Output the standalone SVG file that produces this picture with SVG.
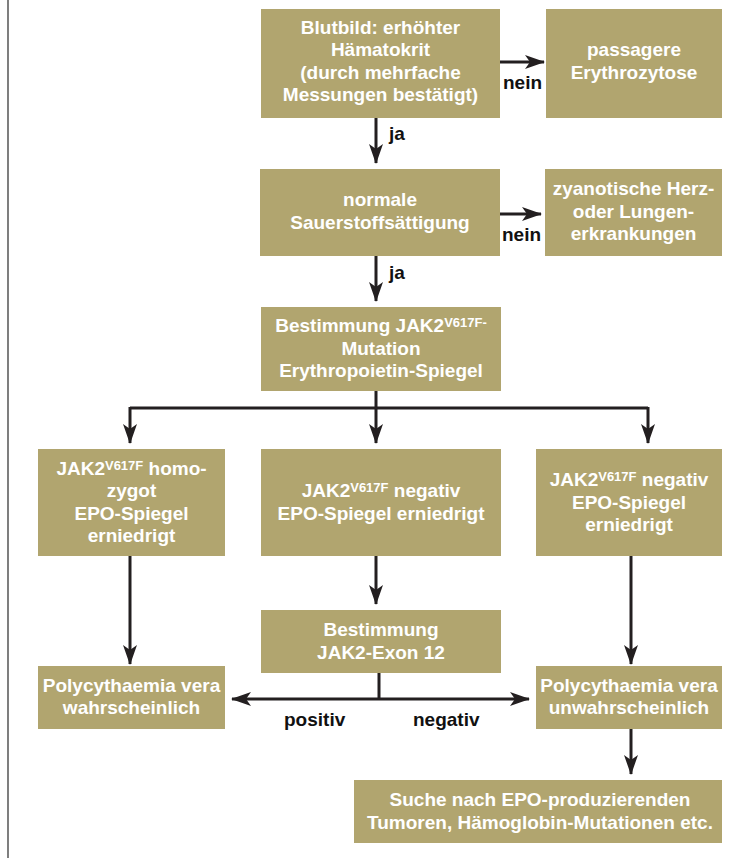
<svg xmlns="http://www.w3.org/2000/svg" width="736" height="858" viewBox="0 0 736 858">
<style>
.box{fill:#b1a56f}
.t{font-family:"Liberation Sans",Arial,sans-serif;font-weight:bold;font-size:19px;fill:#ffffff;text-anchor:middle}
.lbl{font-family:"Liberation Sans",Arial,sans-serif;font-weight:bold;font-size:19px;fill:#111111}
.sup{font-size:13px}
.c{fill:none;stroke:#231f20;stroke-width:3}
</style>
<defs>
<marker id="ah" viewBox="0 0 20 14" refX="19" refY="7" markerWidth="20" markerHeight="14" orient="auto-start-reverse" markerUnits="userSpaceOnUse">
<path d="M0,0 L20,7 L0,14 L5,7 Z" fill="#231f20"/>
</marker>
</defs>
<rect width="736" height="858" fill="#ffffff"/>
<line x1="8" y1="0" x2="8" y2="858" stroke="#3a3a3a" stroke-width="1.3"/>

<g id="connectors">
<path class="c" d="M500,62 L544,62" marker-end="url(#ah)"/>
<path class="c" d="M376,118 L376,163" marker-end="url(#ah)"/>
<path class="c" d="M500,214 L541,214" marker-end="url(#ah)"/>
<path class="c" d="M376,256 L376,301" marker-end="url(#ah)"/>
<path class="c" d="M376,391 L376,408"/>
<path class="c" d="M130,408 L648,408"/>
<path class="c" d="M130,407 L130,443" marker-end="url(#ah)"/>
<path class="c" d="M376,408 L376,443" marker-end="url(#ah)"/>
<path class="c" d="M648,407 L648,443" marker-end="url(#ah)"/>
<path class="c" d="M130,556 L130,664" marker-end="url(#ah)"/>
<path class="c" d="M376,556 L376,604" marker-end="url(#ah)"/>
<path class="c" d="M631,556 L631,664" marker-end="url(#ah)"/>
<path class="c" d="M379,673 L379,699"/>
<path class="c" d="M232,699 L529,699" marker-start="url(#ah)" marker-end="url(#ah)"/>
<path class="c" d="M631,729 L631,774" marker-end="url(#ah)"/>
<text class="lbl" x="503" y="89">nein</text>
<text class="lbl" x="389" y="140">ja</text>
<text class="lbl" x="502" y="241">nein</text>
<text class="lbl" x="389" y="279">ja</text>
<text class="lbl" x="284" y="726">positiv</text>
<text class="lbl" x="413" y="726">negativ</text>
</g>

<g id="n-blutbild">
<rect class="box" x="261" y="9" width="239" height="109"/>
<text class="t" x="380.5" y="33.5">Blutbild: erhöhter</text>
<text class="t" x="380.5" y="56">Hämatokrit</text>
<text class="t" x="380.5" y="78.5">(durch mehrfache</text>
<text class="t" x="380.5" y="101">Messungen bestätigt)</text>
</g>

<g id="n-passagere">
<rect class="box" x="546" y="9" width="176" height="109"/>
<text class="t" x="634" y="55.5">passagere</text>
<text class="t" x="634" y="78.5">Erythrozytose</text>
</g>

<g id="n-sauerstoff">
<rect class="box" x="260" y="169" width="240" height="87"/>
<text class="t" x="380" y="206">normale</text>
<text class="t" x="380" y="228.5">Sauerstoffsättigung</text>
</g>

<g id="n-zyanotisch">
<rect class="box" x="545" y="169" width="177" height="87"/>
<text class="t" x="633.5" y="195">zyanotische Herz-</text>
<text class="t" x="633.5" y="217.5">oder Lungen-</text>
<text class="t" x="633.5" y="240">erkrankungen</text>
</g>

<g id="n-bestimmung">
<rect class="box" x="261" y="307" width="240" height="84"/>
<text class="t" x="381" y="332">Bestimmung JAK2<tspan class="sup" dy="-5">V617F-</tspan></text>
<text class="t" x="381" y="354.5">Mutation</text>
<text class="t" x="381" y="377">Erythropoietin-Spiegel</text>
</g>

<g id="n-homozygot">
<rect class="box" x="38" y="449" width="187" height="107"/>
<text class="t" x="131.5" y="474.5">JAK2<tspan class="sup" dy="-5">V617F</tspan><tspan dy="5"> homo-</tspan></text>
<text class="t" x="131.5" y="497">zygot</text>
<text class="t" x="131.5" y="519.5">EPO-Spiegel</text>
<text class="t" x="131.5" y="542">erniedrigt</text>
</g>

<g id="n-negativ-mitte">
<rect class="box" x="261" y="449" width="240" height="107"/>
<text class="t" x="381" y="497">JAK2<tspan class="sup" dy="-5">V617F</tspan><tspan dy="5"> negativ</tspan></text>
<text class="t" x="381" y="519.5">EPO-Spiegel erniedrigt</text>
</g>

<g id="n-negativ-rechts">
<rect class="box" x="536" y="449" width="186" height="107"/>
<text class="t" x="629" y="486">JAK2<tspan class="sup" dy="-5">V617F</tspan><tspan dy="5"> negativ</tspan></text>
<text class="t" x="629" y="508.5">EPO-Spiegel</text>
<text class="t" x="629" y="531">erniedrigt</text>
</g>

<g id="n-exon12">
<rect class="box" x="261" y="610" width="240" height="63"/>
<text class="t" x="381" y="636">Bestimmung</text>
<text class="t" x="381" y="658.5">JAK2-Exon 12</text>
</g>

<g id="n-pv-wahrscheinlich">
<rect class="box" x="38" y="666" width="187" height="63"/>
<text class="t" x="131.5" y="691.5">Polycythaemia vera</text>
<text class="t" x="131.5" y="714">wahrscheinlich</text>
</g>

<g id="n-pv-unwahrscheinlich">
<rect class="box" x="536" y="666" width="186" height="63"/>
<text class="t" x="629" y="691.5">Polycythaemia vera</text>
<text class="t" x="629" y="714">unwahrscheinlich</text>
</g>

<g id="n-suche">
<rect class="box" x="354" y="780" width="368" height="63"/>
<text class="t" x="540" y="805.5">Suche nach EPO-produzierenden</text>
<text class="t" x="540" y="828.5">Tumoren, Hämoglobin-Mutationen etc.</text>
</g>
</svg>
